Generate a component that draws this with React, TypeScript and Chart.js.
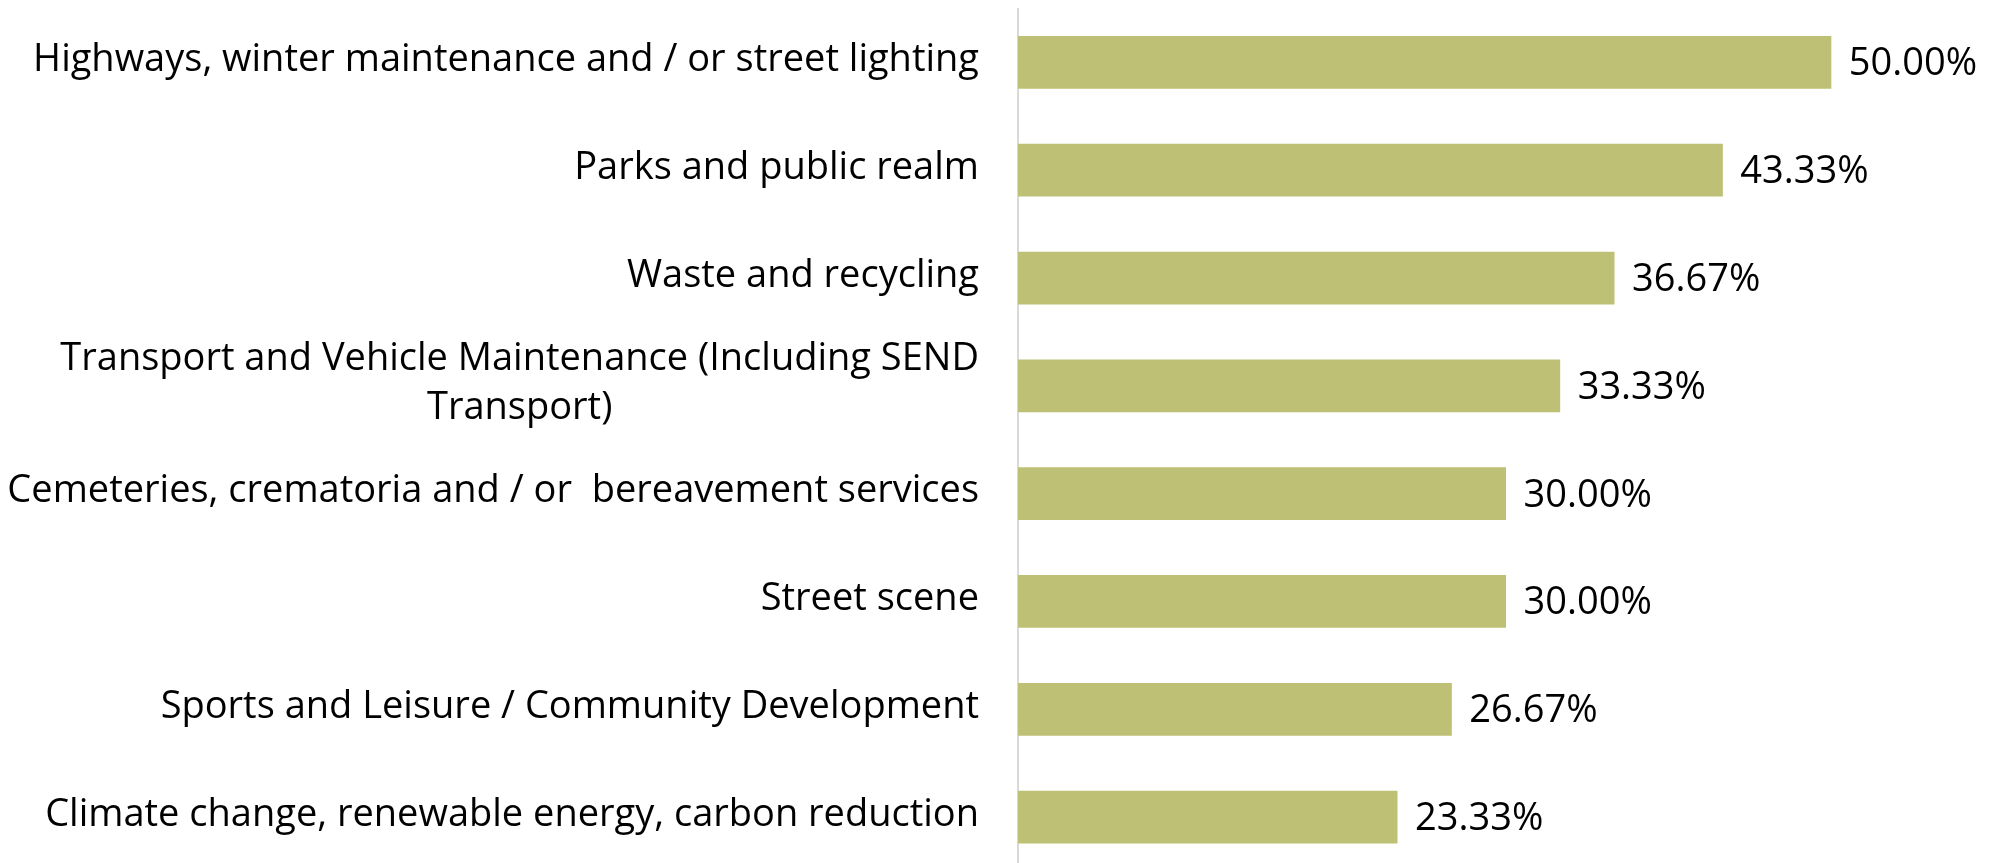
import React, { useEffect, useRef } from "react";
import { Chart, registerables } from "chart.js";

Chart.register(...registerables);

const categories: string[][] = [
  ["Highways, winter maintenance and / or street lighting"],
  ["Parks and public realm"],
  ["Waste and recycling"],
  ["Transport and Vehicle Maintenance (Including SEND", "Transport)"],
  ["Cemeteries, crematoria and / or  bereavement services"],
  ["Street scene"],
  ["Sports and Leisure / Community Development"],
  ["Climate change, renewable energy, carbon reduction"],
];

const values: number[] = [50, 43.33, 36.67, 33.33, 30, 30, 26.67, 23.33];

const valueLabels: string[] = values.map((v) => v.toFixed(2) + "%");

const FONT = '38px "Open Sans"';
const BAR_COLOR = "#BEC175";

const labelPlugin = {
  id: "customLabels",
  afterDatasetsDraw(chart: any) {
    const ctx = chart.ctx as CanvasRenderingContext2D;
    const yScale = chart.scales.y;
    const xScale = chart.scales.x;
    const area = chart.chartArea;
    ctx.save();
    ctx.font = FONT;
    ctx.fillStyle = "#000000";
    ctx.textBaseline = "alphabetic";
    categories.forEach((lines, i) => {
      const cy = yScale.getPixelForValue(i);
      const right = area.left - 39;
      const widths = lines.map((l) => ctx.measureText(l).width);
      const maxW = Math.max(...widths);
      ctx.textAlign = "center";
      lines.forEach((l, k) => {
        const by = cy + 8.7 + (k - (lines.length - 1) / 2) * 48.5;
        ctx.fillText(l, right - maxW / 2, by);
      });
      ctx.textAlign = "left";
      ctx.fillText(valueLabels[i], xScale.getPixelForValue(values[i]) + 17.5, cy + 13);
    });
    ctx.restore();
  },
};

export default function App() {
  const ref = useRef<HTMLCanvasElement | null>(null);

  useEffect(() => {
    if (!ref.current) return;
    const chart = new Chart(ref.current, {
      type: "bar",
      data: {
        labels: categories.map((c) => c.join(" ")),
        datasets: [
          {
            data: values,
            backgroundColor: BAR_COLOR,
            borderWidth: 0,
            categoryPercentage: 1,
            barPercentage: 0.489,
          },
        ],
      },
      options: {
        indexAxis: "y",
        responsive: false,
        animation: false,
        devicePixelRatio: 1,
        layout: { padding: { top: 8.5, left: 0, right: 0, bottom: 0 } },
        plugins: {
          legend: { display: false },
          tooltip: { enabled: false },
        },
        scales: {
          x: {
            display: false,
            min: 0,
            max: 60,
          },
          y: {
            display: true,
            grid: { display: false, drawTicks: false },
            border: { display: true, color: "#D9D9D9", width: 2 },
            ticks: { display: false },
            afterFit: (scale: any) => {
              scale.width = 1018;
            },
          },
        },
      },
      plugins: [labelPlugin],
    });
    return () => chart.destroy();
  }, []);

  return (
    <div
      style={{
        position: "fixed",
        top: 0,
        left: 0,
        width: 1992,
        height: 863,
        overflow: "hidden",
        background: "#ffffff",
      }}
    >
      <canvas ref={ref} width={1994} height={871} style={{ width: 1994, height: 871, display: "block" }} />
    </div>
  );
}
